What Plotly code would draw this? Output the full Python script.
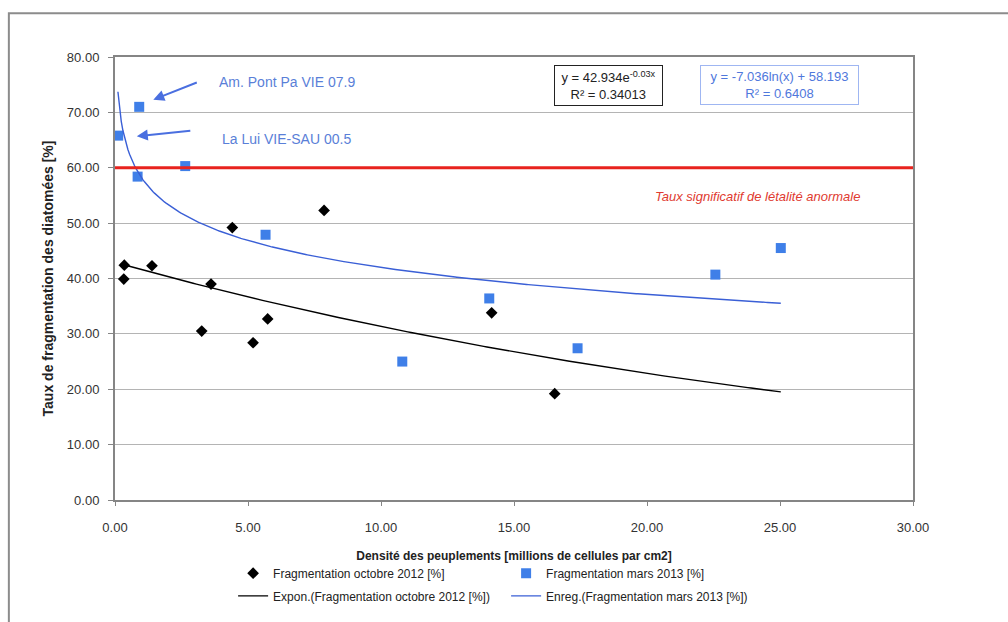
import numpy as np
import plotly.graph_objects as go

# ---- data ----
oct_x = [0.33, 0.35, 1.39, 3.26, 3.61, 4.41, 5.19, 5.74, 7.86, 14.16, 16.53]
oct_y = [39.9, 42.4, 42.3, 30.5, 39.0, 49.2, 28.4, 32.7, 52.3, 33.8, 19.2]
mars_x = [0.12, 0.85, 0.91, 2.64, 5.66, 10.8, 14.07, 17.39, 22.57, 25.03]
mars_y = [65.8, 58.4, 71.0, 60.3, 47.9, 25.0, 36.4, 27.4, 40.7, 45.5]

# trendline coefficients (as displayed by the chart)
exp_a, exp_k = 42.934, -0.0315
log_a, log_b = -7.036, 58.193
exp_span = [0.33, 25.03]
log_span = [0.11, 25.03]
threshold = 60

x_ticks = [0, 5, 10, 15, 20, 25, 30]
y_ticks = [0, 10, 20, 30, 40, 50, 60, 70, 80]

FONT = "Liberation Sans Narrow, Arial Narrow, Liberation Sans, Arial"
BLUE = "#3f7fe8"
LBLUE = "#4a6fe0"

xe = np.linspace(exp_span[0], exp_span[1], 200)
ye = exp_a * np.exp(exp_k * xe)
xl = np.linspace(log_span[0], log_span[1], 400)
yl = log_a * np.log(xl) + log_b

fig = go.Figure()
fig.add_trace(go.Scatter(x=oct_x, y=oct_y, mode="markers", legend="legend",
                         name="Fragmentation octobre 2012 [%]",
                         marker=dict(symbol="diamond", size=9, color="black")))
fig.add_trace(go.Scatter(x=mars_x, y=mars_y, mode="markers", legend="legend",
                         name="Fragmentation mars 2013 [%]",
                         marker=dict(symbol="square", size=10, color=BLUE)))
fig.add_trace(go.Scatter(x=xe, y=ye, mode="lines", legend="legend2",
                         name="Expon.(Fragmentation octobre 2012 [%])",
                         line=dict(color="black", width=1.4)))
fig.add_trace(go.Scatter(x=xl, y=yl, mode="lines", legend="legend2",
                         name="Enreg.(Fragmentation mars 2013 [%])",
                         line=dict(color="#3a5fd6", width=1.4)))

# red threshold line
fig.add_shape(type="line", xref="x", yref="y", x0=0, x1=30, y0=threshold, y1=threshold,
              line=dict(color="#e8231e", width=3), layer="above")

# outer frame
fig.add_shape(type="rect", xref="paper", yref="paper",
              x0=-0.133, x1=1.15, y0=-0.35, y1=1.0985,
              line=dict(color="#8c8c8c", width=2), layer="below")

ann = []
ann.append(dict(x=24.15, y=54.8, xref="x", yref="y", text="<i>Taux significatif de létalité anormale</i>",
                showarrow=False, font=dict(family=FONT, size=13, color="#e03a30")))
ann.append(dict(x=3.82, y=75.5, xref="x", yref="y", xanchor="left", text="Am. Pont Pa VIE 07.9",
                showarrow=False, font=dict(family=FONT, size=14, color="#5a7fd8")))
ann.append(dict(x=3.95, y=65.2, xref="x", yref="y", xanchor="left", text="La Lui VIE-SAU 00.5",
                showarrow=False, font=dict(family=FONT, size=14, color="#5a7fd8")))
ann.append(dict(x=1.44, y=72.3, xref="x", yref="y", ax=45, ay=-17.7, text="",
                showarrow=True, arrowhead=2, arrowsize=1.1, arrowwidth=2, arrowcolor=LBLUE))
ann.append(dict(x=0.82, y=65.7, xref="x", yref="y", ax=55, ay=-5.6, text="",
                showarrow=True, arrowhead=2, arrowsize=1.1, arrowwidth=2, arrowcolor=LBLUE))
ann.append(dict(x=(608.5 - 115) / 798, y=(505 - 85.8) / 448, xref="paper", yref="paper",
                xanchor="center", yanchor="middle",
                text="y = 42.934e<sup>-0.03x</sup><br>R² = 0.34013", showarrow=False,
                align="center", bgcolor="white", bordercolor="#222222", borderwidth=1,
                borderpad=3, width=101, font=dict(family=FONT, size=13, color="#222222")))
ann.append(dict(x=(779 - 115) / 798, y=(505 - 85.8) / 448, xref="paper", yref="paper",
                xanchor="center", yanchor="middle",
                text="y = -7.036ln(x) + 58.193<br>R² = 0.6408", showarrow=False,
                align="center", bgcolor="white", bordercolor="#9fb6f2", borderwidth=1,
                borderpad=3, width=151, font=dict(family=FONT, size=13, color="#4f78dc")))

legend_common = dict(orientation="h", xanchor="left", yanchor="middle",
                     entrywidth=228, entrywidthmode="pixels", bgcolor="rgba(0,0,0,0)",
                     font=dict(family=FONT, size=12, color="#222222"), itemwidth=30)

fig.update_layout(
    width=1008, height=622,
    margin=dict(l=115, r=95, t=57, b=117),
    paper_bgcolor="white", plot_bgcolor="white",
    font=dict(family=FONT, size=13, color="#333333"),
    showlegend=True,
    legend=dict(x=0.148, y=(505 - 579) / 448, **legend_common),
    legend2=dict(x=0.148, y=(505 - 602) / 448, **legend_common),
    annotations=ann,
)
fig.update_xaxes(range=[0, 30], tickvals=x_ticks, tickformat=".2f", automargin=False,
                 showgrid=False, zeroline=False,
                 showline=True, linecolor="#858585", linewidth=2, mirror=True,
                 ticks="outside", ticklen=4, tickcolor="#858585", ticklabelstandoff=10,
                 tickfont=dict(family=FONT, size=13, color="#333333"),
                 title=dict(text="<b>Densité des peuplements [millions de cellules par cm2]</b>",
                            font=dict(family=FONT, size=12, color="#222222"), standoff=18))
fig.update_yaxes(range=[0, 80], tickvals=y_ticks, tickformat=".2f", automargin=False,
                 showgrid=True, gridcolor="#b4b4b4", gridwidth=1, zeroline=False,
                 showline=True, linecolor="#858585", linewidth=2, mirror=True,
                 ticks="outside", ticklen=5, tickcolor="#858585", ticklabelstandoff=6,
                 tickfont=dict(family=FONT, size=13, color="#333333"),
                 title=dict(text="<b>Taux de fragmentation des diatomées [%]</b>",
                            font=dict(family=FONT, size=14, color="#222222"), standoff=10))

fig.write_html("out.html", config={"displayModeBar": False},
               post_script="document.body.style.margin='0px';")
